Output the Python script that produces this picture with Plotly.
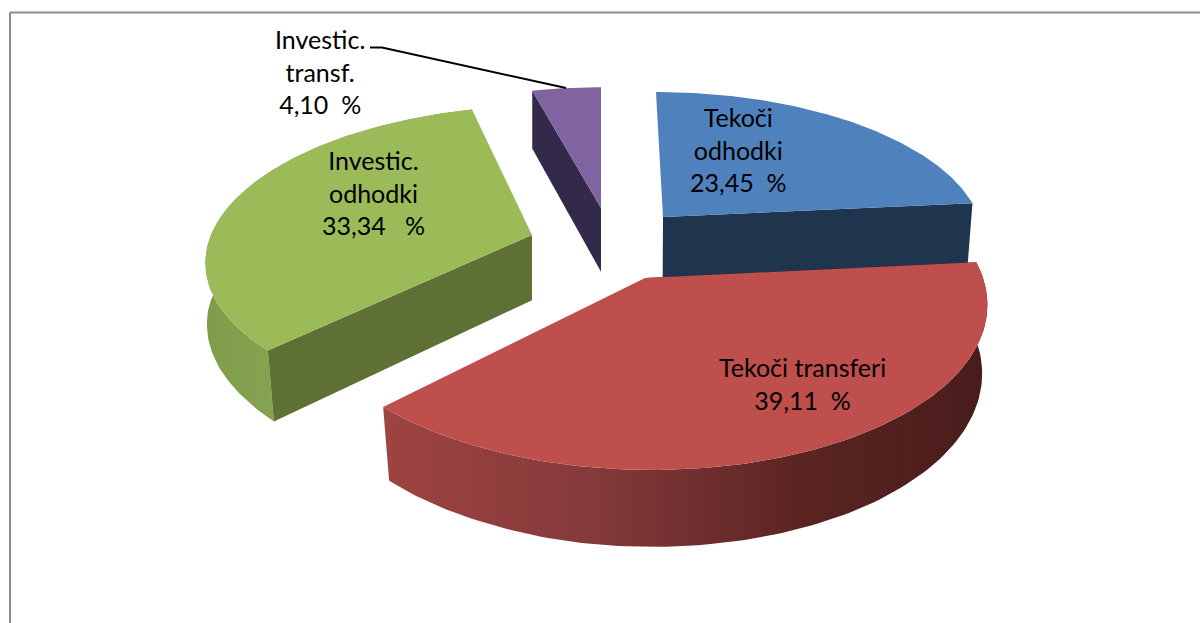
import numpy as np
import plotly.graph_objects as go

# --- data ---
categories = ["Tekoči odhodki", "Tekoči transferi", "Investic. odhodki", "Investic. transf."]
shares = [23.45, 39.11, 33.34, 4.10]
label_lines = [["Tekoči", "odhodki"], ["Tekoči transferi"], ["Investic.", "odhodki"], ["Investic.", "transf."]]
value_gaps = ["\u00a0\u00a0", "\u00a0\u00a0", "\u00a0\u00a0\u00a0", "\u00a0\u00a0"]

# --- style / projection of the 3-D pie ---
top_colors = ["#4f81bd", "#be4f4c", "#9bbb59", "#8064a2"]
cut_colors = ["#1f344d", "#4f1f1d", "#5e7034", "#33294a"]
PERSP = 0.142
# slice: apex x, apex y, radius x, radius y, skew
placement = [
    (663, 217, 316, 142.7, -8),
    (645, 278, 338, 164.7, -6),
    (532, 235, 321, 147.5, 14),
    (601, 208, 307, 138.0, 0),
]
label_pos = [(738, 149), (802, 383), (373, 192), (320, 71.5)]


def project(theta, place):
    cx, cy, rx, ry, sk = place
    X, Y = np.sin(theta), np.cos(theta)
    w = 1 + PERSP * Y
    return cx + (rx * X + sk * Y) / w, cy - ry * Y / w


def lower(x, y):
    # the rim's lower edge, slightly narrowed toward the chart's middle
    left = np.clip(1.7e-4 * (640 - x) * (y - 240), 0, 6)
    right = (640 - x) * 0.015
    return x + np.where(x < 640, left, right), y + 58 + (y - 92) * 0.05


def polygon(x, y, **kw):
    return go.Scatter(x=np.r_[x, x[0]], y=np.r_[y, y[0]], mode="lines", fill="toself",
                      line=dict(width=0), hoverinfo="skip", showlegend=False, **kw)


edges = np.radians(np.r_[0, np.cumsum(shares)] * 3.6)
fig = go.Figure()

for i in [3, 0, 2, 1]:
    place = placement[i]
    t = np.linspace(edges[i], edges[i + 1], 120)
    ax, ay = project(t, place)
    cx, cy = place[0], place[1]
    bx, by = lower(ax, ay)
    ccx, ccy = lower(np.array([cx]), np.array([cy]))

    if i == 1:  # curved outer wall, shaded
        fig.add_trace(polygon(np.r_[ax, bx[::-1]], np.r_[ay, by[::-1]], fillgradient=dict(
            type="horizontal",
            colorscale=[[0, "#9e4441"], [0.35, "#84393a"], [0.7, "#5a2422"], [1, "#481c1b"]])))
    if i == 2:
        fig.add_trace(polygon(np.r_[ax, bx[::-1]], np.r_[ay, by[::-1]], fillgradient=dict(
            type="horizontal",
            colorscale=[[0, "#7f9c4b"], [0.2, "#84a24f"], [1, "#84a24f"]])))

    # flat cut wall
    k = 0 if i == 3 else -1 if i == 0 else 0
    px = np.array([cx, ax[k], bx[k], ccx[0]])
    py = np.array([cy, ay[k], by[k], ccy[0]])
    fig.add_trace(polygon(px, py, fillcolor=cut_colors[i]))

    # top face
    fig.add_trace(polygon(np.r_[cx, ax], np.r_[cy, ay], fillcolor=top_colors[i],
                          name=categories[i]))

# leader line of the small slice
lead_end = project(edges[3] + np.radians(7.3), placement[3])
fig.add_trace(go.Scatter(x=[370, 382, lead_end[0]], y=[47.5, 47.5, lead_end[1]], mode="lines",
                         line=dict(color="#000000", width=2), hoverinfo="skip", showlegend=False))

for lines, v, gap, (lx, ly) in zip(label_lines, shares, value_gaps, label_pos):
    txt = "<br>".join(lines + [f"{v:.2f}".replace(".", ",") + gap + "%"])
    fig.add_annotation(x=lx, y=ly, text=txt, showarrow=False, xanchor="center", yanchor="middle",
                       font=dict(family="Lato", size=25, color="#000000"))

frame = dict(color="#8c8c8c", width=2)
fig.add_shape(type="line", x0=10, x1=10, y0=12.5, y1=623, line=frame)
fig.add_shape(type="line", x0=10, x1=1200, y0=12.5, y1=12.5, line=frame)

fig.update_layout(
    width=1200, height=623, margin=dict(l=0, r=0, t=0, b=0),
    paper_bgcolor="#ffffff", plot_bgcolor="#ffffff", showlegend=False,
    xaxis=dict(range=[0, 1200], visible=False, fixedrange=True),
    yaxis=dict(range=[623, 0], visible=False, fixedrange=True),
)
fig.write_html("out.html", config=dict(displayModeBar=False),
               post_script="document.body.style.margin='0';document.documentElement.style.overflow='hidden';")
